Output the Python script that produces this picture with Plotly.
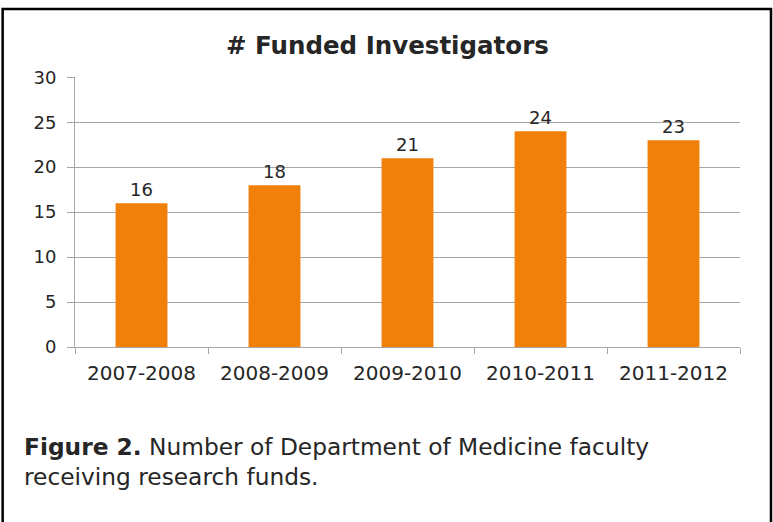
import plotly.graph_objects as go

categories = ["2007-2008", "2008-2009", "2009-2010", "2010-2011", "2011-2012"]
funded_investigators = [16, 18, 21, 24, 23]
y_tick_values = [0, 5, 10, 15, 20, 25, 30]

TEXT = "#262626"
GRID = "#A6A6A6"
FONT = "DejaVu Sans, Verdana, sans-serif"

fig = go.Figure(
    go.Bar(
        x=categories,
        y=funded_investigators,
        marker=dict(color="#F0800A", line=dict(width=0)),
        text=[str(v) for v in funded_investigators],
        textposition="outside",
        textfont=dict(family=FONT, size=18, color=TEXT),
        cliponaxis=False,
        width=0.39,
    )
)

fig.update_layout(
    width=773,
    height=522,
    margin=dict(l=75, r=33, t=77, b=175),
    paper_bgcolor="white",
    plot_bgcolor="white",
    showlegend=False,
    font=dict(family=FONT, color=TEXT),
    xaxis=dict(
        type="category",
        showgrid=False,
        showline=True,
        linecolor=GRID,
        linewidth=1,
        ticks="outside",
        tickson="boundaries",
        ticklen=6,
        tickcolor=GRID,
        ticklabelstandoff=8,
        tickfont=dict(family=FONT, size=20, color=TEXT),
        zeroline=False,
    ),
    yaxis=dict(
        range=[0, 30.03],
        tickvals=y_tick_values,
        showgrid=True,
        gridcolor=GRID,
        gridwidth=1,
        showline=True,
        linecolor=GRID,
        linewidth=1,
        ticks="outside",
        ticklen=7,
        tickcolor=GRID,
        ticklabelstandoff=7,
        tickfont=dict(family=FONT, size=18, color=TEXT),
        zeroline=False,
    ),
    annotations=[
        dict(
            text="<b># Funded Investigators</b>",
            xref="paper", yref="paper",
            x=0.47, y=1.0, yshift=32,
            xanchor="center", yanchor="middle",
            showarrow=False,
            font=dict(family=FONT, size=24.5, color=TEXT),
        ),
        dict(
            text="<b>Figure 2.</b> Number of Department of Medicine faculty<br>receiving research funds.",
            xref="paper", yref="paper",
            x=-0.0797, y=-0.311,
            xanchor="left", yanchor="top",
            align="left",
            showarrow=False,
            font=dict(family=FONT, size=23.3, color=TEXT),
        ),
    ],
    shapes=[
        dict(
            type="rect",
            xref="paper", yref="paper",
            x0=-0.1088, x1=1.0466,
            y0=-0.72, y1=1.2519,
            line=dict(color="black", width=2.5),
            fillcolor="rgba(0,0,0,0)",
            layer="below",
        )
    ],
)

fig.write_html(
    "out.html",
    config={"displayModeBar": False},
    post_script="document.body.style.margin='0px';",
)
